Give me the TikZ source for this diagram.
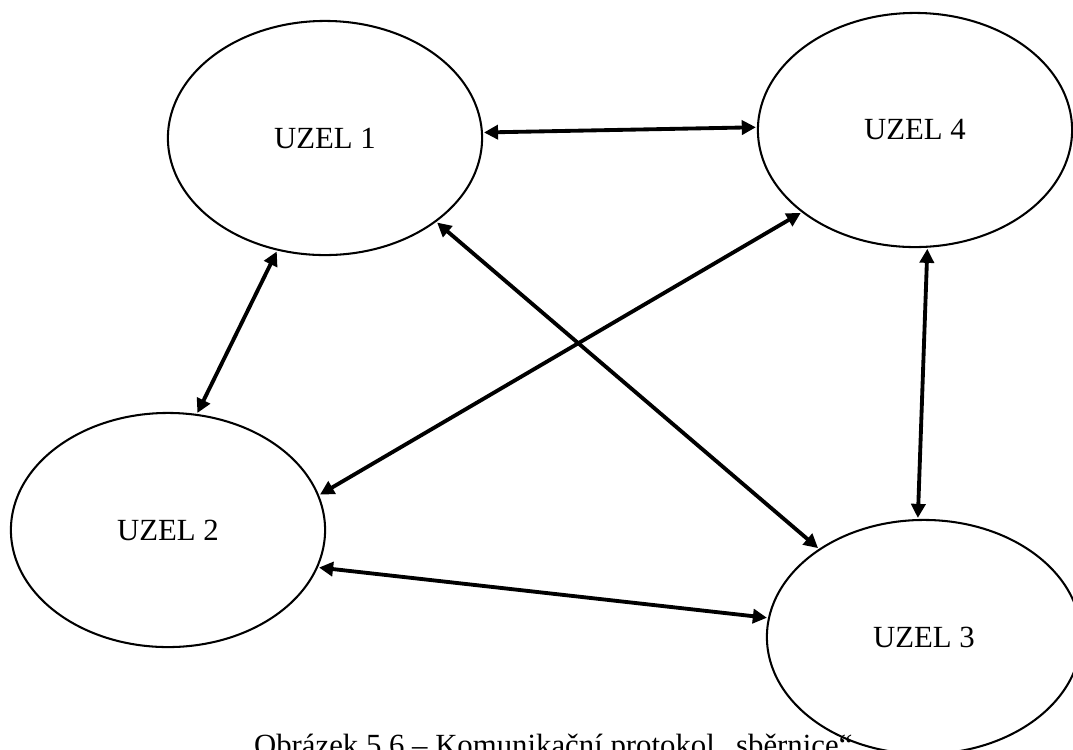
\documentclass[tikz,border=0pt]{standalone}
\usepackage{fontspec}
\setmainfont{Liberation Serif}
\usetikzlibrary{shapes.geometric,arrows.meta}
\begin{document}
\begin{tikzpicture}[line cap=round,line join=round,x=0.01371cm,y=-0.01371cm,
		>={Triangle[length=5.5pt,width=5.5pt]},
		font=\fontsize{12pt}{14pt}\selectfont,
		uzel/.style={draw,ellipse,line width=0.8pt,inner sep=0pt,
			minimum width=4.305cm,minimum height=3.208cm},
		spoj/.style={<->,line width=1.5pt,shorten <=0.4pt,shorten >=0.4pt}]
	\useasboundingbox (0,0) rectangle (1073,749); %ramecek obrazku
	% Uzly
	\node[uzel] (u1) at (325,138) {UZEL 1};
	\node[uzel] (u4) at (915,130) {UZEL 4};
	\node[uzel] (u2) at (168,530) {UZEL 2};
	\node[uzel] (u3) at (924,637) {UZEL 3};
	% Spojeni mezi uzly
	\draw[spoj] (u1.2) -- (u4.179);
	\draw[spoj] (u1.-113) -- (u2.76);
	\draw[spoj] (u1.-37) -- (u3.140);
	\draw[spoj] (u4.-144) -- (u2.13);
	\draw[spoj] (u4.-84) -- (u3.93);
	\draw[spoj] (u2.-14) -- (u3.173);
	% Popisek
	\node[anchor=base west] (popis) at (245,755)
		{Obrázek 5.6 – Komunikační protokol „sběrnice“};
\end{tikzpicture}
\end{document}
